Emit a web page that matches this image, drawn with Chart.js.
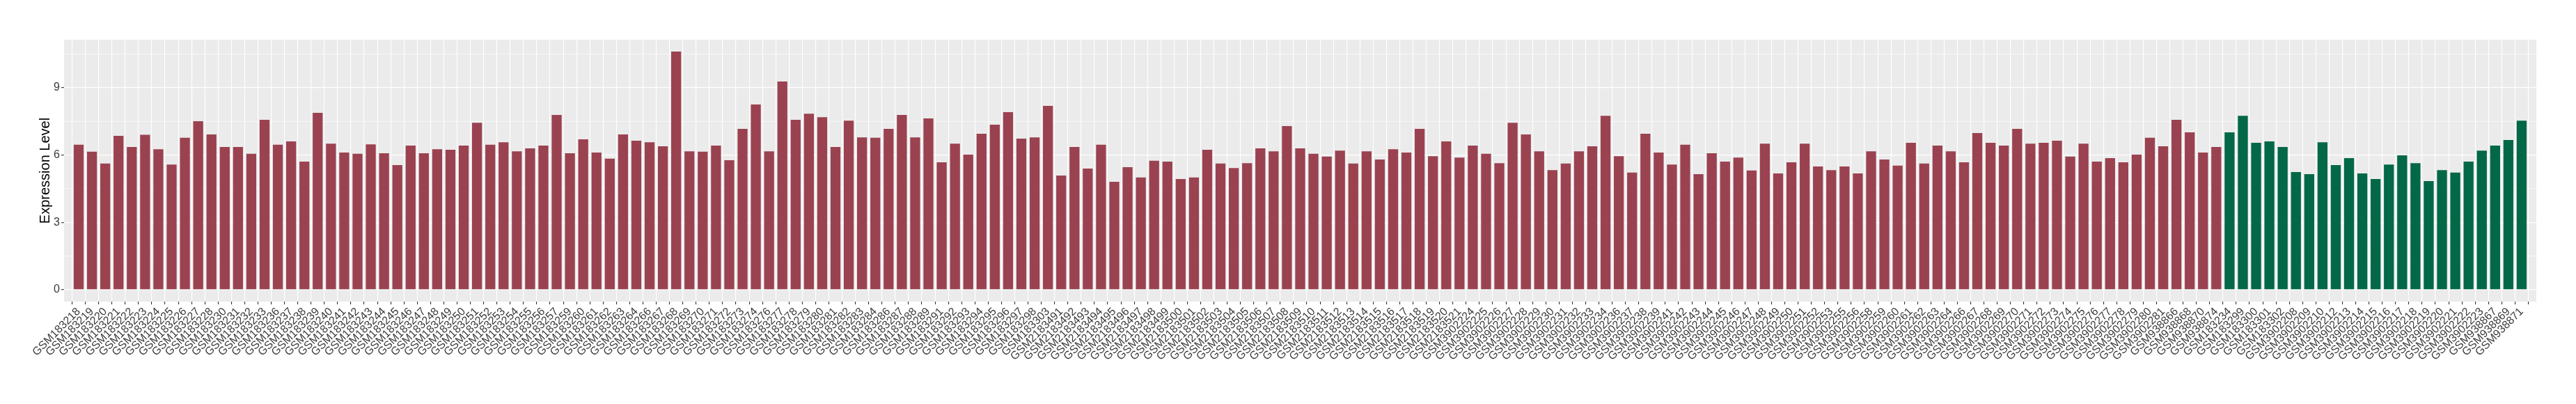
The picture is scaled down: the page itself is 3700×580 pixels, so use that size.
<!DOCTYPE html>
<html>
<head>
<meta charset="utf-8">
<script src="https://cdn.jsdelivr.net/npm/chart.js@4.4.1/dist/chart.umd.min.js"></script>
<style>
  html, body { margin: 0; padding: 0; background: #ffffff; }
</style>
</head>
<body>
<canvas id="expressionChart" width="3700" height="580"></canvas>
<script>
// Samples drawn in red (first group) and their expression values
var redSamples = [
  'GSM183218','GSM183219','GSM183220','GSM183221','GSM183222','GSM183223','GSM183224','GSM183225',
  'GSM183226','GSM183227','GSM183228','GSM183230','GSM183231','GSM183232','GSM183233','GSM183236',
  'GSM183237','GSM183238','GSM183239','GSM183240','GSM183241','GSM183242','GSM183243','GSM183244',
  'GSM183245','GSM183246','GSM183247','GSM183248','GSM183249','GSM183250','GSM183251','GSM183252',
  'GSM183253','GSM183254','GSM183255','GSM183256','GSM183257','GSM183259','GSM183260','GSM183261',
  'GSM183262','GSM183263','GSM183264','GSM183266','GSM183267','GSM183268','GSM183269','GSM183270',
  'GSM183271','GSM183272','GSM183273','GSM183274','GSM183276','GSM183277','GSM183278','GSM183279',
  'GSM183280','GSM183281','GSM183282','GSM183283','GSM183284','GSM183286','GSM183287','GSM183288',
  'GSM183289','GSM183291','GSM183292','GSM183293','GSM183294','GSM183295','GSM183296','GSM183297',
  'GSM183298','GSM183303',
  'GSM2183491','GSM2183492','GSM2183493','GSM2183494','GSM2183495','GSM2183496','GSM2183497','GSM2183498',
  'GSM2183499','GSM2183500','GSM2183501','GSM2183502','GSM2183503','GSM2183504','GSM2183505','GSM2183506',
  'GSM2183507','GSM2183508','GSM2183509','GSM2183510','GSM2183511','GSM2183512','GSM2183513','GSM2183514',
  'GSM2183515','GSM2183516','GSM2183517','GSM2183518','GSM2183519','GSM2183520','GSM2183521',
  'GSM3902224','GSM3902225','GSM3902226','GSM3902227','GSM3902228','GSM3902229','GSM3902230','GSM3902231',
  'GSM3902232','GSM3902233','GSM3902234','GSM3902236','GSM3902237','GSM3902238','GSM3902239','GSM3902241',
  'GSM3902242','GSM3902243','GSM3902244','GSM3902245','GSM3902246','GSM3902247','GSM3902248','GSM3902249',
  'GSM3902250','GSM3902251','GSM3902252','GSM3902253','GSM3902255','GSM3902256','GSM3902258','GSM3902259',
  'GSM3902260','GSM3902261','GSM3902262','GSM3902263','GSM3902264','GSM3902266','GSM3902267','GSM3902268',
  'GSM3902269','GSM3902270','GSM3902271','GSM3902272','GSM3902273','GSM3902274','GSM3902275','GSM3902276',
  'GSM3902277','GSM3902278','GSM3902279','GSM3902280','GSM3902281',
  'GSM938866','GSM938868','GSM938870','GSM938874'
];
var redValues = [
  6.46, 6.15, 5.62, 6.86, 6.36, 6.90, 6.26, 5.58, 6.77, 7.51, 6.92, 6.36, 6.36, 6.06, 7.57, 6.46,
  6.61, 5.71, 7.88, 6.51, 6.11, 6.06, 6.48, 6.08, 5.55, 6.42, 6.08, 6.26, 6.24, 6.42, 7.44, 6.46,
  6.57, 6.17, 6.30, 6.42, 7.79, 6.08, 6.70, 6.11, 5.84, 6.92, 6.64, 6.57, 6.39, 10.61, 6.17, 6.15,
  6.42, 5.77, 7.17, 8.25, 6.17, 9.28, 7.57, 7.84, 7.69, 6.36, 7.53, 6.79, 6.77, 7.17, 7.79, 6.79,
  7.63, 5.68, 6.51, 6.02, 6.95, 7.35, 7.91, 6.73, 6.79, 8.19,
  5.09, 6.36, 5.40, 6.46, 4.81, 5.46, 5.00, 5.75, 5.71, 4.93, 5.00, 6.24, 5.62, 5.42, 5.64, 6.30,
  6.17, 7.29, 6.30, 6.06, 5.93, 6.20, 5.62, 6.17, 5.80, 6.26, 6.11, 7.17, 5.95, 6.61, 5.89,
  6.42, 6.06, 5.64, 7.44, 6.92, 6.17, 5.33, 5.62, 6.17, 6.39, 7.75, 5.95, 5.22, 6.95, 6.11, 5.58,
  6.46, 5.15, 6.08, 5.71, 5.89, 5.31, 6.51, 5.18, 5.68, 6.51, 5.49, 5.33, 5.49, 5.18, 6.17, 5.80,
  5.53, 6.55, 5.62, 6.42, 6.17, 5.68, 6.98, 6.55, 6.42, 7.17, 6.51, 6.55, 6.64, 5.93, 6.51, 5.71,
  5.86, 5.68, 6.02, 6.77, 6.39,
  7.57, 7.01, 6.11, 6.36
];

// Samples drawn in green (second group)
var greenSamples = [
  'GSM183234','GSM183299','GSM183300','GSM183301','GSM183302',
  'GSM3902208','GSM3902209','GSM3902210','GSM3902212','GSM3902213','GSM3902214','GSM3902215','GSM3902216',
  'GSM3902217','GSM3902218','GSM3902219','GSM3902220','GSM3902221','GSM3902222','GSM3902223',
  'GSM938867','GSM938869','GSM938871'
];
var greenValues = [
  7.01, 7.75, 6.55, 6.61, 6.36,
  5.24, 5.15, 6.57, 5.55, 5.86, 5.18, 4.93, 5.58, 5.99, 5.64, 4.84, 5.33, 5.22, 5.71, 6.20,
  6.42, 6.67, 7.53
];

// y axis: labelled ticks and every gridline (minor ones in between)
var yTickLabels = ['0', '3', '6', '9'];
var yGridValues = [0, 1.5, 3, 4.5, 6, 7.5, 9, 10.5];

var allSamples = redSamples.concat(greenSamples);
var nBars = allSamples.length;

// bars sit at integer positions on a linear x axis, red first then green
var redPoints = redValues.map(function (v, i) { return { x: i, y: v }; });
var greenPoints = greenValues.map(function (v, i) { return { x: redValues.length + i, y: v }; });

var maxValue = Math.max.apply(null, redValues.concat(greenValues));
var yPad = maxValue * 0.05;

// grey panel behind the plot like ggplot's theme_gray
var panelBackground = {
  id: 'panelBackground',
  beforeDraw: function (chart) {
    var ctx = chart.ctx, a = chart.chartArea;
    ctx.save();
    ctx.fillStyle = '#EBEBEB';
    ctx.fillRect(a.left, a.top, a.right - a.left, a.bottom - a.top);
    ctx.restore();
  }
};

function isMajor(value) {
  return yTickLabels.indexOf(String(value)) !== -1;
}

var config = {
  type: 'bar',
  data: {
    datasets: [
      {
        label: 'red',
        data: redPoints,
        backgroundColor: '#9B4251',
        borderWidth: 0,
        grouped: false,
        barPercentage: 0.75,
        categoryPercentage: 1
      },
      {
        label: 'green',
        data: greenPoints,
        backgroundColor: '#026847',
        borderWidth: 0,
        grouped: false,
        barPercentage: 0.75,
        categoryPercentage: 1
      }
    ]
  },
  options: {
    responsive: false,
    animation: false,
    layout: { padding: { top: 57, right: 57, left: 0, bottom: 0 } },
    plugins: {
      legend: { display: false },
      tooltip: { enabled: false }
    },
    scales: {
      x: {
        type: 'linear',
        min: -0.6,
        max: nBars - 1 + 0.6,
        afterBuildTicks: function (scale) {
          scale.ticks = allSamples.map(function (_, i) { return { value: i }; });
        },
        afterFit: function (scale) { scale.height = 147; },
        ticks: {
          autoSkip: false,
          minRotation: 45,
          maxRotation: 45,
          padding: 1,
          color: '#3A3A3A',
          font: { family: 'Liberation Sans', size: 16 },
          callback: function (value) { return allSamples[value]; }
        },
        grid: {
          color: '#FFFFFF',
          lineWidth: 1.1,
          tickColor: '#333333',
          tickLength: 4,
          tickWidth: 1.1
        },
        border: { display: false }
      },
      y: {
        min: -yPad,
        max: maxValue + yPad,
        afterBuildTicks: function (scale) {
          scale.ticks = yGridValues.map(function (v) { return { value: v }; });
        },
        afterFit: function (scale) { scale.width = 92; },
        ticks: {
          padding: 2,
          color: '#3A3A3A',
          font: { family: 'Liberation Sans', size: 16 },
          callback: function (value) { return isMajor(value) ? String(value) : ''; }
        },
        grid: {
          color: '#FFFFFF',
          lineWidth: function (ctx) { return ctx.tick && isMajor(ctx.tick.value) ? 1.3 : 0.6; },
          tickColor: function (ctx) { return ctx.tick && isMajor(ctx.tick.value) ? '#333333' : 'rgba(0,0,0,0)'; },
          tickLength: 4,
          tickWidth: 1.1
        },
        border: { display: false },
        title: {
          display: true,
          text: 'Expression Level',
          color: '#000000',
          font: { family: 'Liberation Sans', size: 20 },
          padding: { top: 53, bottom: 0 }
        }
      }
    }
  },
  plugins: [panelBackground]
};

new Chart(document.getElementById('expressionChart'), config);
</script>
</body>
</html>
